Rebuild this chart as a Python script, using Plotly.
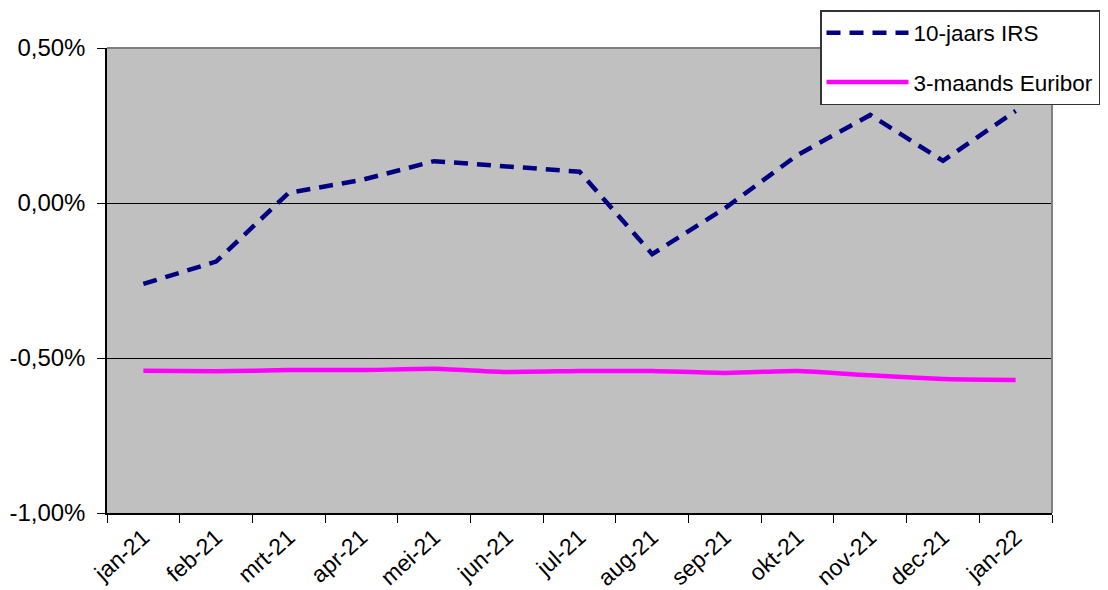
import plotly.graph_objects as go

months = ["jan-21", "feb-21", "mrt-21", "apr-21", "mei-21", "jun-21", "jul-21",
          "aug-21", "sep-21", "okt-21", "nov-21", "dec-21", "jan-22"]
irs_10y = [-0.261, -0.189, 0.033, 0.074, 0.135, 0.119, 0.101,
           -0.165, -0.017, 0.155, 0.284, 0.136, 0.297]
euribor_3m = [-0.541, -0.543, -0.539, -0.539, -0.535, -0.545, -0.542,
              -0.542, -0.548, -0.542, -0.556, -0.568, -0.571]
y_ticks = [-1.0, -0.5, 0.0, 0.5]
y_tick_labels = ["-1,00%", "-0,50%", "0,00%", "0,50%"]

FONT = "Arial, Liberation Sans, sans-serif"

fig = go.Figure()
fig.add_trace(go.Scatter(
    x=months, y=irs_10y, mode="lines", name="10-jaars IRS",
    legendgroup="a",
    line=dict(color="#000080", width=4.5, dash="14px,9px"),
))
fig.add_trace(go.Scatter(
    x=months, y=euribor_3m, mode="lines", name="3-maands Euribor",
    legendgroup="b",
    line=dict(color="#FF00FF", width=4.5, shape="spline", smoothing=0.4),
))

fig.update_layout(
    width=1108, height=590,
    margin=dict(l=107, r=56, t=48, b=77, autoexpand=False),
    paper_bgcolor="white",
    plot_bgcolor="#C0C0C0",
    font=dict(family=FONT, color="black", size=21),
    showlegend=True,
    legend=dict(
        x=(820 - 107) / 945, y=(513 - 10) / 465, xanchor="left", yanchor="top",
        bgcolor="white", bordercolor="#333333", borderwidth=1.5,
        font=dict(size=22.5, color="black", family=FONT),
        itemwidth=82, traceorder="grouped", tracegroupgap=17,
    ),
    xaxis=dict(
        type="category", tickangle=-42, tickson="boundaries",
        ticks="outside", ticklen=8, tickcolor="black", tickwidth=1,
        showline=True, linecolor="black", linewidth=1.5,
        showgrid=False, zeroline=False,
        tickfont=dict(size=23, family=FONT, color="black"),
        range=[-0.5, 12.5],
    ),
    yaxis=dict(
        range=[-1.0, 0.5], tickvals=y_ticks, ticktext=y_tick_labels,
        ticks="outside", ticklen=8, tickcolor="black", tickwidth=1,
        showline=True, linecolor="black", linewidth=1.5,
        showgrid=True, gridcolor="black", gridwidth=1, zeroline=False,
        tickfont=dict(size=24, family=FONT, color="black"),
        ticklabelstandoff=7,
    ),
    shapes=[
        dict(type="line", xref="paper", yref="paper", x0=0, x1=1, y0=1, y1=1,
             line=dict(color="#808080", width=2), layer="above"),
        dict(type="line", xref="paper", yref="paper", x0=1, x1=1, y0=0, y1=1,
             line=dict(color="#808080", width=2), layer="above"),
    ],
)

fig.write_html("out.html", config={"displayModeBar": False},
               post_script="document.body.style.margin='0';")
